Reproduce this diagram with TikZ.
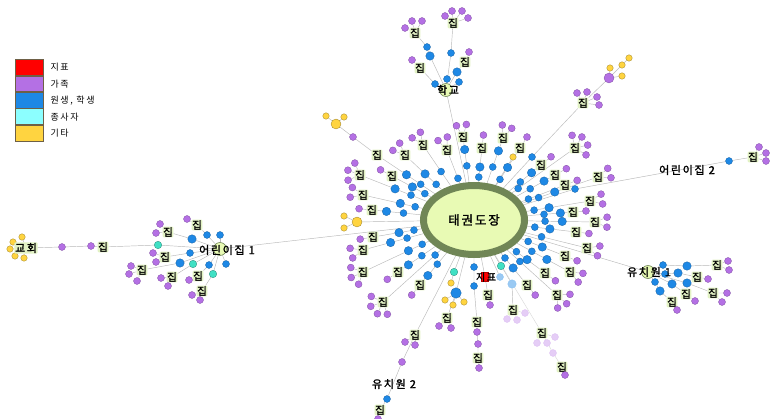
\documentclass[tikz,border=0pt]{standalone}
\usepackage{fontspec}
\newfontfamily\krb{Noto Sans CJK KR}[FakeBold=1.8]
\newfontfamily\krbw{Noto Sans CJK KR}[FakeBold=1.8,LetterSpace=15]
\newfontfamily\krw{Noto Sans CJK KR}[LetterSpace=18]
\usetikzlibrary{positioning,shapes.geometric}
\pgfdeclarelayer{edges}
\pgfsetlayers{edges,main}
\definecolor{redcol}{RGB}{255,0,0}
\definecolor{famcol}{RGB}{180,112,228}
\definecolor{stucol}{RGB}{30,136,229}
\definecolor{stfcol}{RGB}{64,224,196}
\definecolor{stfkey}{RGB}{140,255,255}
\definecolor{etccol}{RGB}{255,212,64}
\definecolor{hubring}{RGB}{112,134,86}
\definecolor{hubfill}{RGB}{232,250,180}
\definecolor{jipbg}{RGB}{226,242,196}
\definecolor{keyedge}{RGB}{110,96,70}

\begin{document}
\begin{tikzpicture}[x=1pt, y=-1pt]

	\tikzset{
	edge/.style={draw=gray!55, line width=0.45pt},
	dot/.style={circle, inner sep=0pt, line width=0.3pt},
	fam/.style={dot, fill=famcol, draw=famcol!70!black, minimum size=7pt},
	fade/.style={dot, fill=famcol!35, draw=famcol!45, minimum size=7pt},
	stu/.style={dot, fill=stucol, draw=stucol!70!black, minimum size=7pt},
	bigstu/.style={stu, minimum size=8.5pt},
	pale/.style={stu, fill=stucol!45, draw=stucol!55},
	stf/.style={dot, fill=stfcol, draw=stfcol!60!black, minimum size=7.5pt},
	etc/.style={dot, fill=etccol, draw=etccol!60!black, minimum size=6.5pt},
	bigetc/.style={etc, minimum size=10pt},
	place/.style={dot, fill=hubfill, draw=hubring, line width=0.6pt, minimum size=13pt},
	jip/.style={font=\krb\fontsize{10.5}{10.5}\selectfont, fill=jipbg, inner sep=0.6pt, rounded corners=1pt},
	sitelabel/.style={font=\krbw\fontsize{11}{11}\selectfont, inner sep=0pt},
	hubnode/.style={ellipse, draw=hubring, line width=7pt, fill=hubfill, minimum width=101pt, minimum height=69pt, inner sep=0pt, font=\krbw\fontsize{12.5}{12.5}\selectfont},
	keybox/.style={draw=keyedge, line width=0.6pt, minimum width=28pt, minimum height=15.8pt, inner sep=0pt},
	keytext/.style={font=\krw\fontsize{9}{9}\selectfont, inner sep=0pt}
	}

	\useasboundingbox (0,0) rectangle (770,419);

	% Legend
	\node[keybox, fill=redcol] (key1) at (29,67.5) {};
	\node[keybox, fill=famcol, below=0pt of key1] (key2) {};
	\node[keybox, fill=stucol, below=0pt of key2] (key3) {};
	\node[keybox, fill=stfkey, below=0pt of key3] (key4) {};
	\node[keybox, fill=etccol, below=0pt of key4] (key5) {};
	\node[keytext, right=7pt of key1] (keyt1) {지표};
	\node[keytext, right=7pt of key2] (keyt2) {가족};
	\node[keytext, right=7pt of key3] (keyt3) {원생, 학생};
	\node[keytext, right=7pt of key4] (keyt4) {종사자};
	\node[keytext, right=7pt of key5] (keyt5) {기타};

	% Hub
	\node[hubnode] (hub) at (474,220) {태권도장};

	% Spokes round the hub: label x / label y / family dots / student dots
	\foreach \x/\y/\np/\nb [count=\i] in {
		595/222/2/2, 576/232/1/2, 587/248/2/1, 565/256/1/2, 570/272/2/2,
		545/273/1/2, 557/295/3/1, 527/285/1/2, 420/285/1/2, 383/302/4/1,
		398/272/1/2, 363/272/3/2, 363/250/2/2, 373/237/1/2, 372/210/1/2,
		363/195/2/2, 360/175/3/2, 392/176/1/2, 377/155/0/2, 405/155/2/2,
		423/145/2/1, 447/150/2/1, 463/137/2/2, 482/148/1/2, 503/138/2/2,
		520/148/1/2, 541/165/1/2, 575/148/4/1, 555/175/1/2, 565/185/1/1,
		598/177/2/2, 590/201/2/2, 573/212/1/2}{
		\pgfmathsetmacro\dx{\x-474}
		\pgfmathsetmacro\dy{\y-220}
		\pgfmathsetmacro\slen{veclen(\dx,\dy)}
		\pgfmathsetmacro\bd{\slen/sqrt((\dx/54)^2+(\dy/38)^2)}
		\pgfmathsetmacro\gap{min(\slen-\bd-9,38)}
		\pgfmathsetmacro\odd{mod(\i,2)}
		\pgfmathsetmacro\fa{(\bd+\gap*(0.2+0.25*\odd))/\slen}
		\pgfmathsetmacro\fb{(\bd+\gap*(0.6+0.3*\odd))/\slen}
		\pgfmathsetmacro\ang{atan2(\dy,\dx)}
		\node[stu] (s\i-a) at ({474+\fa*(\dx)},{220+\fa*(\dy)}) {};
		\node[jip] (s\i) at (\x,\y) {집};
		\ifnum\nb=2
			\node[bigstu] (s\i-b) at ({474+\fb*(\dx)},{220+\fb*(\dy)}) {};
			\begin{pgfonlayer}{edges}
			\draw[edge] (hub) -- (s\i-a) -- (s\i-b) -- (s\i);
			\end{pgfonlayer}
		\else
			\begin{pgfonlayer}{edges}
			\draw[edge] (hub) -- (s\i-a) -- (s\i);
			\end{pgfonlayer}
		\fi
		\ifnum\np>0
			\foreach \k in {1,...,\np}{
				\pgfmathsetmacro\pa{\ang+(\k-(\np+1)/2)*45}
				\node[fam] (s\i-p\k) at ({\x+13*cos(\pa)},{\y+13*sin(\pa)}) {};
				\begin{pgfonlayer}{edges}
				\draw[edge] (s\i) -- (s\i-p\k);
				\end{pgfonlayer}
			}
		\fi
	}

	% Nodes near the hub
	\node[fam] (tlp) at (353,137) {};
	\node[bigetc] (tly) at (336,124) {};
	\node[etc] (tly1) at (326,116) {};
	\node[etc] (tly2) at (344,117) {};
	\node[bigetc] (ly) at (357,222) {};
	\node[etc] (ly1) at (344,216) {};
	\node[etc] (ly2) at (344,228) {};
	\node[etc] (try) at (513,157) {};

	\node[stu] (ub) at (532,157) {};
	\node[jip] (uj) at (583,103) {집};
	\node[fam] (uj1) at (577,93) {};
	\node[fam] (uj2) at (587,92) {};
	\node[fam] (uj3) at (597,97) {};
	\node[fam] (uj4) at (599,105) {};
	\node[fam, minimum size=10pt] (up) at (609,78) {};
	\node[etc] (uy1) at (610,68) {};
	\node[etc] (uy2) at (622,65) {};
	\node[etc] (uy3) at (622,76) {};
	\node[etc] (uy4) at (629,58) {};

	\node[stf] (bc) at (454,272) {};
	\node[etc] (bcy) at (451,283) {};
	\node[bigstu, minimum size=10.5pt] (bb) at (456,293) {};
	\node[etc] (bby1) at (445,300) {};
	\node[etc] (bby2) at (453,305) {};
	\node[etc] (bby3) at (464,302) {};
	\node[jip] (bj) at (447,318) {집};
	\node[fam] (bjp1) at (439,326) {};
	\node[fam] (bjp2) at (451,328) {};

	\node[stu] (db1) at (474,267) {};
	\node[stu] (db2) at (474,286) {};
	\node[draw=red!70!black, fill=redcol, minimum width=7pt, minimum height=9pt, inner sep=0pt] (zr) at (485,277) {};
	\node[font=\krbw\fontsize{10}{10}\selectfont, inner sep=0pt] (zt) at (486,277) {지표};
	\node[jip] (zj) at (488,295) {집};
	\node[fam] (zjp) at (490,305) {};
	\node[jip] (dj1) at (477,322) {집};
	\node[fam] (dp1) at (477,332) {};
	\node[fam] (dp2) at (478,344) {};
	\node[jip] (dj2) at (478,358) {집};
	\node[fam] (dp3) at (479,368) {};

	\node[stf] (rc) at (501,266) {};
	\node[pale] (lb1) at (500,277) {};
	\node[pale, minimum size=8.5pt] (lb2) at (512,284) {};
	\node[jip] (fj1) at (513,310) {집};
	\node[fade] (fp1) at (507,319) {};
	\node[fade] (fp2) at (517,320) {};
	\node[fade] (fp3) at (525,313) {};
	\node[jip] (fj2) at (542,333) {집};
	\node[fade] (fp4) at (537,343) {};
	\node[fade] (fp5) at (547,343) {};
	\node[fade] (fp6) at (555,337) {};
	\node[fade] (fp7) at (553,353) {};
	\node[jip] (fj3) at (562,367) {집};
	\node[fam] (fp8) at (565,375) {};

	% Kindergarten 2
	\node[jip] (kj1) at (415,335) {집};
	\node[fam] (kj1p1) at (405,342) {};
	\node[fam] (kj1p2) at (415,345) {};
	\node[fam] (kp) at (402,362) {};
	\node[stu] (kb) at (387,399) {};
	\node[jip] (kj2) at (380,410) {집};
	\node[fam] (kp2) at (378,419) {};
	\node[sitelabel] (yl2) at (394,384) {유치원 2};

	% Kids' house 2
	\node[stu] (rb) at (575,189) {};
	\node[stu] (rb2) at (729,161) {};
	\node[jip] (rj) at (753,157) {집};
	\node[fam] (rjp1) at (759,147) {};
	\node[fam] (rjp2) at (766,153) {};
	\node[fam] (rjp3) at (766,161) {};
	\node[sitelabel] (ec2) at (687,170) {어린이집 2};

	% School
	\node[place] (hak) at (446,90) {};
	\node[stu] (hb1) at (435,84) {};
	\node[jip] (hj1) at (420,68) {집};
	\node[fam] (hj1p1) at (412,60) {};
	\node[bigstu] (hb2) at (430,56) {};
	\node[stu] (hb3) at (427,47) {};
	\node[jip] (hj2) at (415,33) {집};
	\node[fam] (hj2p1) at (405,28) {};
	\node[fam] (hj2p2) at (412,21) {};
	\node[fam] (hj2p3) at (422,21) {};
	\node[stu] (hb4) at (451,53) {};
	\node[jip] (hj3) at (453,23) {집};
	\node[fam] (hj3p1) at (445,16) {};
	\node[fam] (hj3p2) at (452,11) {};
	\node[fam] (hj3p3) at (462,11) {};
	\node[fam] (hj3p4) at (468,18) {};
	\node[bigstu] (hb5) at (457,72) {};
	\node[jip] (hj4) at (465,62) {집};
	\node[fam] (hj4p1) at (469,52) {};
	\node[stu] (hb6) at (447,79) {};
	\node[stu] (hb7) at (459,82) {};
	\node[sitelabel] (hakt) at (448,90) {학교};

	% Kindergarten 1
	\node[place] (yc1) at (648,272) {};
	\node[stu] (y1a) at (663,265) {};
	\node[bigstu] (y1b) at (687,266) {};
	\node[jip] (y1j) at (717,265) {집};
	\node[fam] (y1p1) at (728,261) {};
	\node[fam] (y1p2) at (729,270) {};
	\node[stu] (y2a) at (665,274) {};
	\node[bigstu] (y2b) at (678,273) {};
	\node[jip] (y2j) at (697,277) {집};
	\node[fam] (y2p1) at (708,279) {};
	\node[bigstu] (y3a) at (687,283) {};
	\node[jip] (y3j) at (713,293) {집};
	\node[fam] (y3p1) at (727,293) {};
	\node[fam] (y3p2) at (722,302) {};
	\node[bigstu] (y4a) at (672,284) {};
	\node[jip] (y4j) at (686,294) {집};
	\node[fam] (y4p1) at (695,301) {};
	\node[stu] (y5a) at (655,282) {};
	\node[bigstu] (y5b) at (660,291) {};
	\node[jip] (y5j) at (672,302) {집};
	\node[fam] (y5p1) at (677,310) {};
	\node[sitelabel] (yl1) at (649,272) {유치원 1};

	% Kids' house 1
	\node[place] (ec1) at (220,249) {};
	\node[stf] (ec1c) at (158,245) {};
	\node[jip] (gj) at (103,247) {집};
	\node[fam] (gp1) at (91,246) {};
	\node[fam] (gp2) at (62,247) {};
	\node[etc] (cy1) at (13,242) {};
	\node[etc] (cy2) at (22,237) {};
	\node[etc] (cy3) at (10,249) {};
	\node[etc] (cy4) at (15,256) {};
	\node[etc] (cy5) at (24,258) {};
	\node[jip, font=\krbw\fontsize{11}{11}\selectfont] (church) at (26,248) {교회};
	\node[stu] (e1b1) at (207,235) {};
	\node[jip] (e1j1) at (197,225) {집};
	\node[fam] (e1p1) at (187,219) {};
	\node[bigstu] (e1b2) at (192,239) {};
	\node[jip] (e1j2) at (168,232) {집};
	\node[fam] (e1p2) at (160,224) {};
	\node[fam] (e1p3) at (156,233) {};
	\node[stu] (e1b3) at (190,253) {};
	\node[jip] (e1j3) at (165,257) {집};
	\node[fam] (e1p4) at (153,253) {};
	\node[fam] (e1p5) at (156,262) {};
	\node[bigstu] (e1b4) at (180,263) {};
	\node[jip] (e1j4) at (142,270) {집};
	\node[fam] (e1p6) at (131,266) {};
	\node[fam] (e1p7) at (129,274) {};
	\node[fam] (e1p8) at (137,281) {};
	\node[stf] (e1c5) at (193,264) {};
	\node[jip] (e1j5) at (172,277) {집};
	\node[fam] (e1p9) at (161,278) {};
	\node[fam] (e1p10) at (168,286) {};
	\node[stu] (e1b6) at (209,265) {};
	\node[jip] (e1j6) at (198,276) {집};
	\node[fam] (e1p11) at (189,280) {};
	\node[stf] (e1c7) at (213,274) {};
	\node[jip] (e1j7) at (202,291) {집};
	\node[fam] (e1p12) at (192,295) {};
	\node[fam] (e1p13) at (200,300) {};
	\node[stu] (e1b8) at (220,235) {};
	\node[stu] (e1b9) at (226,264) {};
	\node[sitelabel] (el1) at (227,250) {어린이집 1};

	% Lines
	\begin{pgfonlayer}{edges}
	\draw[edge] (s19) -- (tlp) -- (tly) -- (tly1);
	\draw[edge] (tly) -- (tly2);
	\draw[edge] (hub) -- (ly) -- (ly1);
	\draw[edge] (ly) -- (ly2);
	\draw[edge] (hub) -- (try);
	\draw[edge] (hub) -- (ub) -- (uj) -- (up) -- (uy2) -- (uy4);
	\draw[edge] (up) -- (uy1);
	\draw[edge] (up) -- (uy3);
	\foreach \k in {1,...,4} \draw[edge] (uj) -- (uj\k);
	\draw[edge] (hub) -- (bc) -- (bcy);
	\draw[edge] (hub) -- (bb) -- (bj) -- (bjp1);
	\draw[edge] (bj) -- (bjp2);
	\foreach \k in {1,2,3} \draw[edge] (bb) -- (bby\k);
	\draw[edge] (hub) -- (db1) -- (db2) -- (dj1) -- (dp1) -- (dp2) -- (dj2) -- (dp3);
	\draw[edge] (hub) -- (zr) -- (zj) -- (zjp);
	\draw[edge] (hub) -- (rc);
	\draw[edge] (hub) -- (lb1);
	\draw[edge] (hub) -- (lb2) -- (fj1);
	\foreach \k in {1,2,3} \draw[edge, draw=gray!30] (fj1) -- (fp\k);
	\draw[edge, draw=gray!30] (hub) -- (fj2) -- (fp7) -- (fj3) -- (fp8);
	\foreach \k in {4,5,6} \draw[edge, draw=gray!30] (fj2) -- (fp\k);
	\draw[edge] (hub) -- (kj1) -- (kp) -- (kb) -- (kj2) -- (kp2);
	\draw[edge] (kj1) -- (kj1p1);
	\draw[edge] (kj1) -- (kj1p2);
	\draw[edge] (hub) -- (rb) -- (rb2) -- (rj);
	\foreach \k in {1,2,3} \draw[edge] (rj) -- (rjp\k);
	\draw[edge] (hub) -- (hak);
	\draw[edge] (hak) -- (hb1) -- (hj1) -- (hj1p1);
	\draw[edge] (hak) -- (hb2) -- (hb3) -- (hj2);
	\foreach \k in {1,2,3} \draw[edge] (hj2) -- (hj2p\k);
	\draw[edge] (hak) -- (hb4) -- (hj3);
	\foreach \k in {1,...,4} \draw[edge] (hj3) -- (hj3p\k);
	\draw[edge] (hak) -- (hb5) -- (hj4) -- (hj4p1);
	\draw[edge] (hak) -- (hb6);
	\draw[edge] (hak) -- (hb7);
	\draw[edge] (hub) -- (yc1);
	\draw[edge] (yc1) -- (y1a) -- (y1b) -- (y1j) -- (y1p1);
	\draw[edge] (y1j) -- (y1p2);
	\draw[edge] (yc1) -- (y2a) -- (y2b) -- (y2j) -- (y2p1);
	\draw[edge] (yc1) -- (y3a) -- (y3j) -- (y3p1);
	\draw[edge] (y3j) -- (y3p2);
	\draw[edge] (yc1) -- (y4a) -- (y4j) -- (y4p1);
	\draw[edge] (yc1) -- (y5a) -- (y5b) -- (y5j) -- (y5p1);
	\draw[edge] (hub) -- (ec1);
	\draw[edge] (ec1) -- (ec1c) -- (gj) -- (gp1) -- (gp2) -- (church);
	\foreach \k in {1,...,5} \draw[edge] (church) -- (cy\k);
	\draw[edge] (ec1) -- (e1b1) -- (e1j1) -- (e1p1);
	\draw[edge] (ec1) -- (e1b2) -- (e1j2) -- (e1p2);
	\draw[edge] (e1j2) -- (e1p3);
	\draw[edge] (ec1) -- (e1b3) -- (e1j3) -- (e1p4);
	\draw[edge] (e1j3) -- (e1p5);
	\draw[edge] (ec1) -- (e1b4) -- (e1j4) -- (e1p6);
	\draw[edge] (e1j4) -- (e1p7);
	\draw[edge] (e1j4) -- (e1p8);
	\draw[edge] (ec1) -- (e1c5) -- (e1j5) -- (e1p9);
	\draw[edge] (e1j5) -- (e1p10);
	\draw[edge] (ec1) -- (e1b6) -- (e1j6) -- (e1p11);
	\draw[edge] (ec1) -- (e1c7) -- (e1j7) -- (e1p12);
	\draw[edge] (e1j7) -- (e1p13);
	\draw[edge] (ec1) -- (e1b8);
	\draw[edge] (ec1) -- (e1b9);
	\end{pgfonlayer}

\end{tikzpicture}
\end{document}
